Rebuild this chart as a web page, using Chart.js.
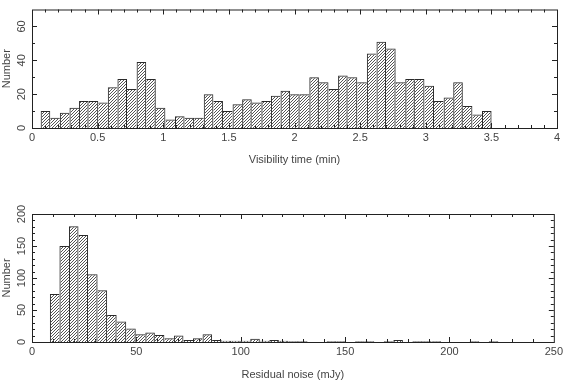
<!DOCTYPE html>
<html>
<head>
<meta charset="utf-8">
<script src="https://cdn.jsdelivr.net/npm/chart.js@4.4.1/dist/chart.umd.min.js"></script>
<style>
  html, body { margin:0; padding:0; background:#fff; }
  body { width:567px; height:380px; position:relative; overflow:hidden; }
  .panel { position:absolute; left:0; width:567px; }
  #p1 { top:0; height:170px; }
  #p2 { top:190px; height:190px; }
</style>
</head>
<body>
<div class="panel" id="p1"><canvas id="visChart"></canvas></div>
<div class="panel" id="p2"><canvas id="noiseChart"></canvas></div>
<script>
// histogram 1: visibility time (min), 47 bins
const visBinStart = 0.066, visBinWidth = 0.0731;
const visCounts = [10,6,9,12,16,16,15,24,29,23, 39,29,12,5,7,6,6,20,16,10,
                   14,17,15,16,19,22,20,20,30,27, 23,31,30,27,44,51,47,27,29,29,
                   25,16,18,27,13,8,10];
const visXTicks = [0, 0.5, 1, 1.5, 2, 2.5, 3, 3.5, 4];
const visYTicks = [0, 20, 40, 60];

// histogram 2: residual noise (mJy), 47 bins
const noiseBinStart = 8.57, noiseBinWidth = 4.571;
const noiseCounts = [75,150,181,167,106,81,42,32,21,12, 15,11,6,10,3,6,12,3,2,2,
                     2,5,2,3,2,1,1,0,0,1, 1,0,1,1,0,1,3,0,1,1,
                     1,0,0,0,1,0,1];
const noiseXTicks = [0, 50, 100, 150, 200, 250];
const noiseYTicks = [0, 50, 100, 150, 200];

const FONT = { family: "'Liberation Sans', Arial, sans-serif", size: 11, lineHeight: 1 };
const TXT = '#444';

// frame with inward ticks on all four sides (PGPLOT look)
const frameTicks = {
  id: 'frameTicks',
  beforeDatasetsDraw(chart, args, o) {
    const {ctx, chartArea: a, scales: {x, y}} = chart;
    ctx.save();
    ctx.strokeStyle = '#222';
    ctx.lineWidth = 1;
    ctx.strokeRect(a.left + 0.5, a.top + 0.5, a.right - a.left, a.bottom - a.top);
    ctx.beginPath();
    const n1 = Math.round((x.max - x.min) / o.xMinor);
    for (let k = 1; k < n1; k++) {
      const px = Math.round(x.getPixelForValue(x.min + k * o.xMinor)) + 0.5;
      const len = (k % o.xEvery === 0) ? 5 : 3;
      ctx.moveTo(px, a.bottom); ctx.lineTo(px, a.bottom - len);
      ctx.moveTo(px, a.top); ctx.lineTo(px, a.top + len);
    }
    const n2 = Math.round((y.max - y.min) / o.yMinor);
    for (let k = 1; k <= n2; k++) {
      const py = Math.round(y.getPixelForValue(y.min + k * o.yMinor)) + 0.5;
      if (py <= a.top + 1) continue;
      const len = (k % o.yEvery === 0) ? 5 : 3;
      ctx.moveTo(a.left, py); ctx.lineTo(a.left + len, py);
      ctx.moveTo(a.right, py); ctx.lineTo(a.right - len, py);
    }
    ctx.stroke();
    ctx.restore();
  }
};

function hatch(canvas) {
  const c = document.createElement('canvas');
  c.width = 3; c.height = 3;
  const g = c.getContext('2d');
  g.fillStyle = '#555';
  for (let yy = 0; yy < 3; yy++) for (let xx = 0; xx < 3; xx++)
    if ((xx + yy) % 3 === 2) g.fillRect(xx, yy, 1, 1);
  return canvas.getContext('2d').createPattern(c, 'repeat');
}

// outline each bar once: shared edge is drawn by the taller neighbour
const edges = counts => c => {
  const i = c.dataIndex, v = counts[i];
  const prev = i > 0 ? counts[i - 1] : 0;
  const next = i < counts.length - 1 ? counts[i + 1] : 0;
  return { top: 1, bottom: 0, left: prev < v ? 1 : 0, right: next <= v ? 1 : 0 };
};

function histo(id, s) {
  const canvas = document.getElementById(id);
  const pts = s.counts.map((v, i) => ({ x: s.start + (i + 0.5) * s.width, y: v }));
  return new Chart(canvas, {
    type: 'bar',
    data: {
      datasets: [{
        data: pts,
        backgroundColor: hatch(canvas),
        borderColor: '#2a2a2a',
        borderWidth: edges(s.counts),
        borderSkipped: false,
        inflateAmount: 0,
        barPercentage: 1,
        categoryPercentage: 1
      }]
    },
    options: {
      responsive: true, maintainAspectRatio: false, animation: false,
      layout: { padding: { top: s.padTop, right: 10, left: 0, bottom: 0 } },
      scales: {
        x: {
          type: 'linear', min: s.xMin, max: s.xMax, offset: false,
          grid: { display: false, drawTicks: false }, border: { display: false },
          afterBuildTicks: sc => { sc.ticks = s.xTicks.map(v => ({ value: v })); },
          afterFit: sc => { sc.height = s.xAxisH; },
          ticks: { font: FONT, color: TXT, padding: 4, maxRotation: 0, autoSkip: false,
                   callback: v => String(v) },
          title: { display: true, text: s.xTitle, font: FONT, color: TXT, padding: { top: 0, bottom: s.titlePadB } }
        },
        y: {
          min: 0, max: s.yMax,
          grid: { display: false, drawTicks: false }, border: { display: false },
          afterBuildTicks: sc => { sc.ticks = s.yTicks.map(v => ({ value: v })); },
          afterFit: sc => { sc.width = 32; },
          ticks: { font: FONT, color: TXT, padding: s.yPad, minRotation: 90, maxRotation: 90,
                   crossAlign: 'center', autoSkip: false, callback: v => String(v) },
          title: { display: true, text: 'Number', font: FONT, color: TXT, padding: { top: 1, bottom: 0 } }
        }
      },
      plugins: {
        legend: { display: false }, tooltip: { enabled: false },
        frameTicks: s.minor
      }
    },
    plugins: [frameTicks]
  });
}

histo('visChart', {
  counts: visCounts, start: visBinStart, width: visBinWidth,
  xMin: 0, xMax: 4, yMax: 70, xTicks: visXTicks, yTicks: visYTicks,
  xTitle: 'Visibility time (min)', padTop: 0, xAxisH: 42, titlePadB: 4.5, yPad: 4,
  minor: { xMinor: 0.1, xEvery: 5, yMinor: 10, yEvery: 2 }
});

histo('noiseChart', {
  counts: noiseCounts, start: noiseBinStart, width: noiseBinWidth,
  xMin: 0, xMax: 250, yMax: 200, xTicks: noiseXTicks, yTicks: noiseYTicks,
  xTitle: 'Residual noise (mJy)', padTop: 24, xAxisH: 38, titlePadB: 0, yPad: 1,
  minor: { xMinor: 10, xEvery: 5, yMinor: 10, yEvery: 5 }
});
</script>
</body>
</html>
